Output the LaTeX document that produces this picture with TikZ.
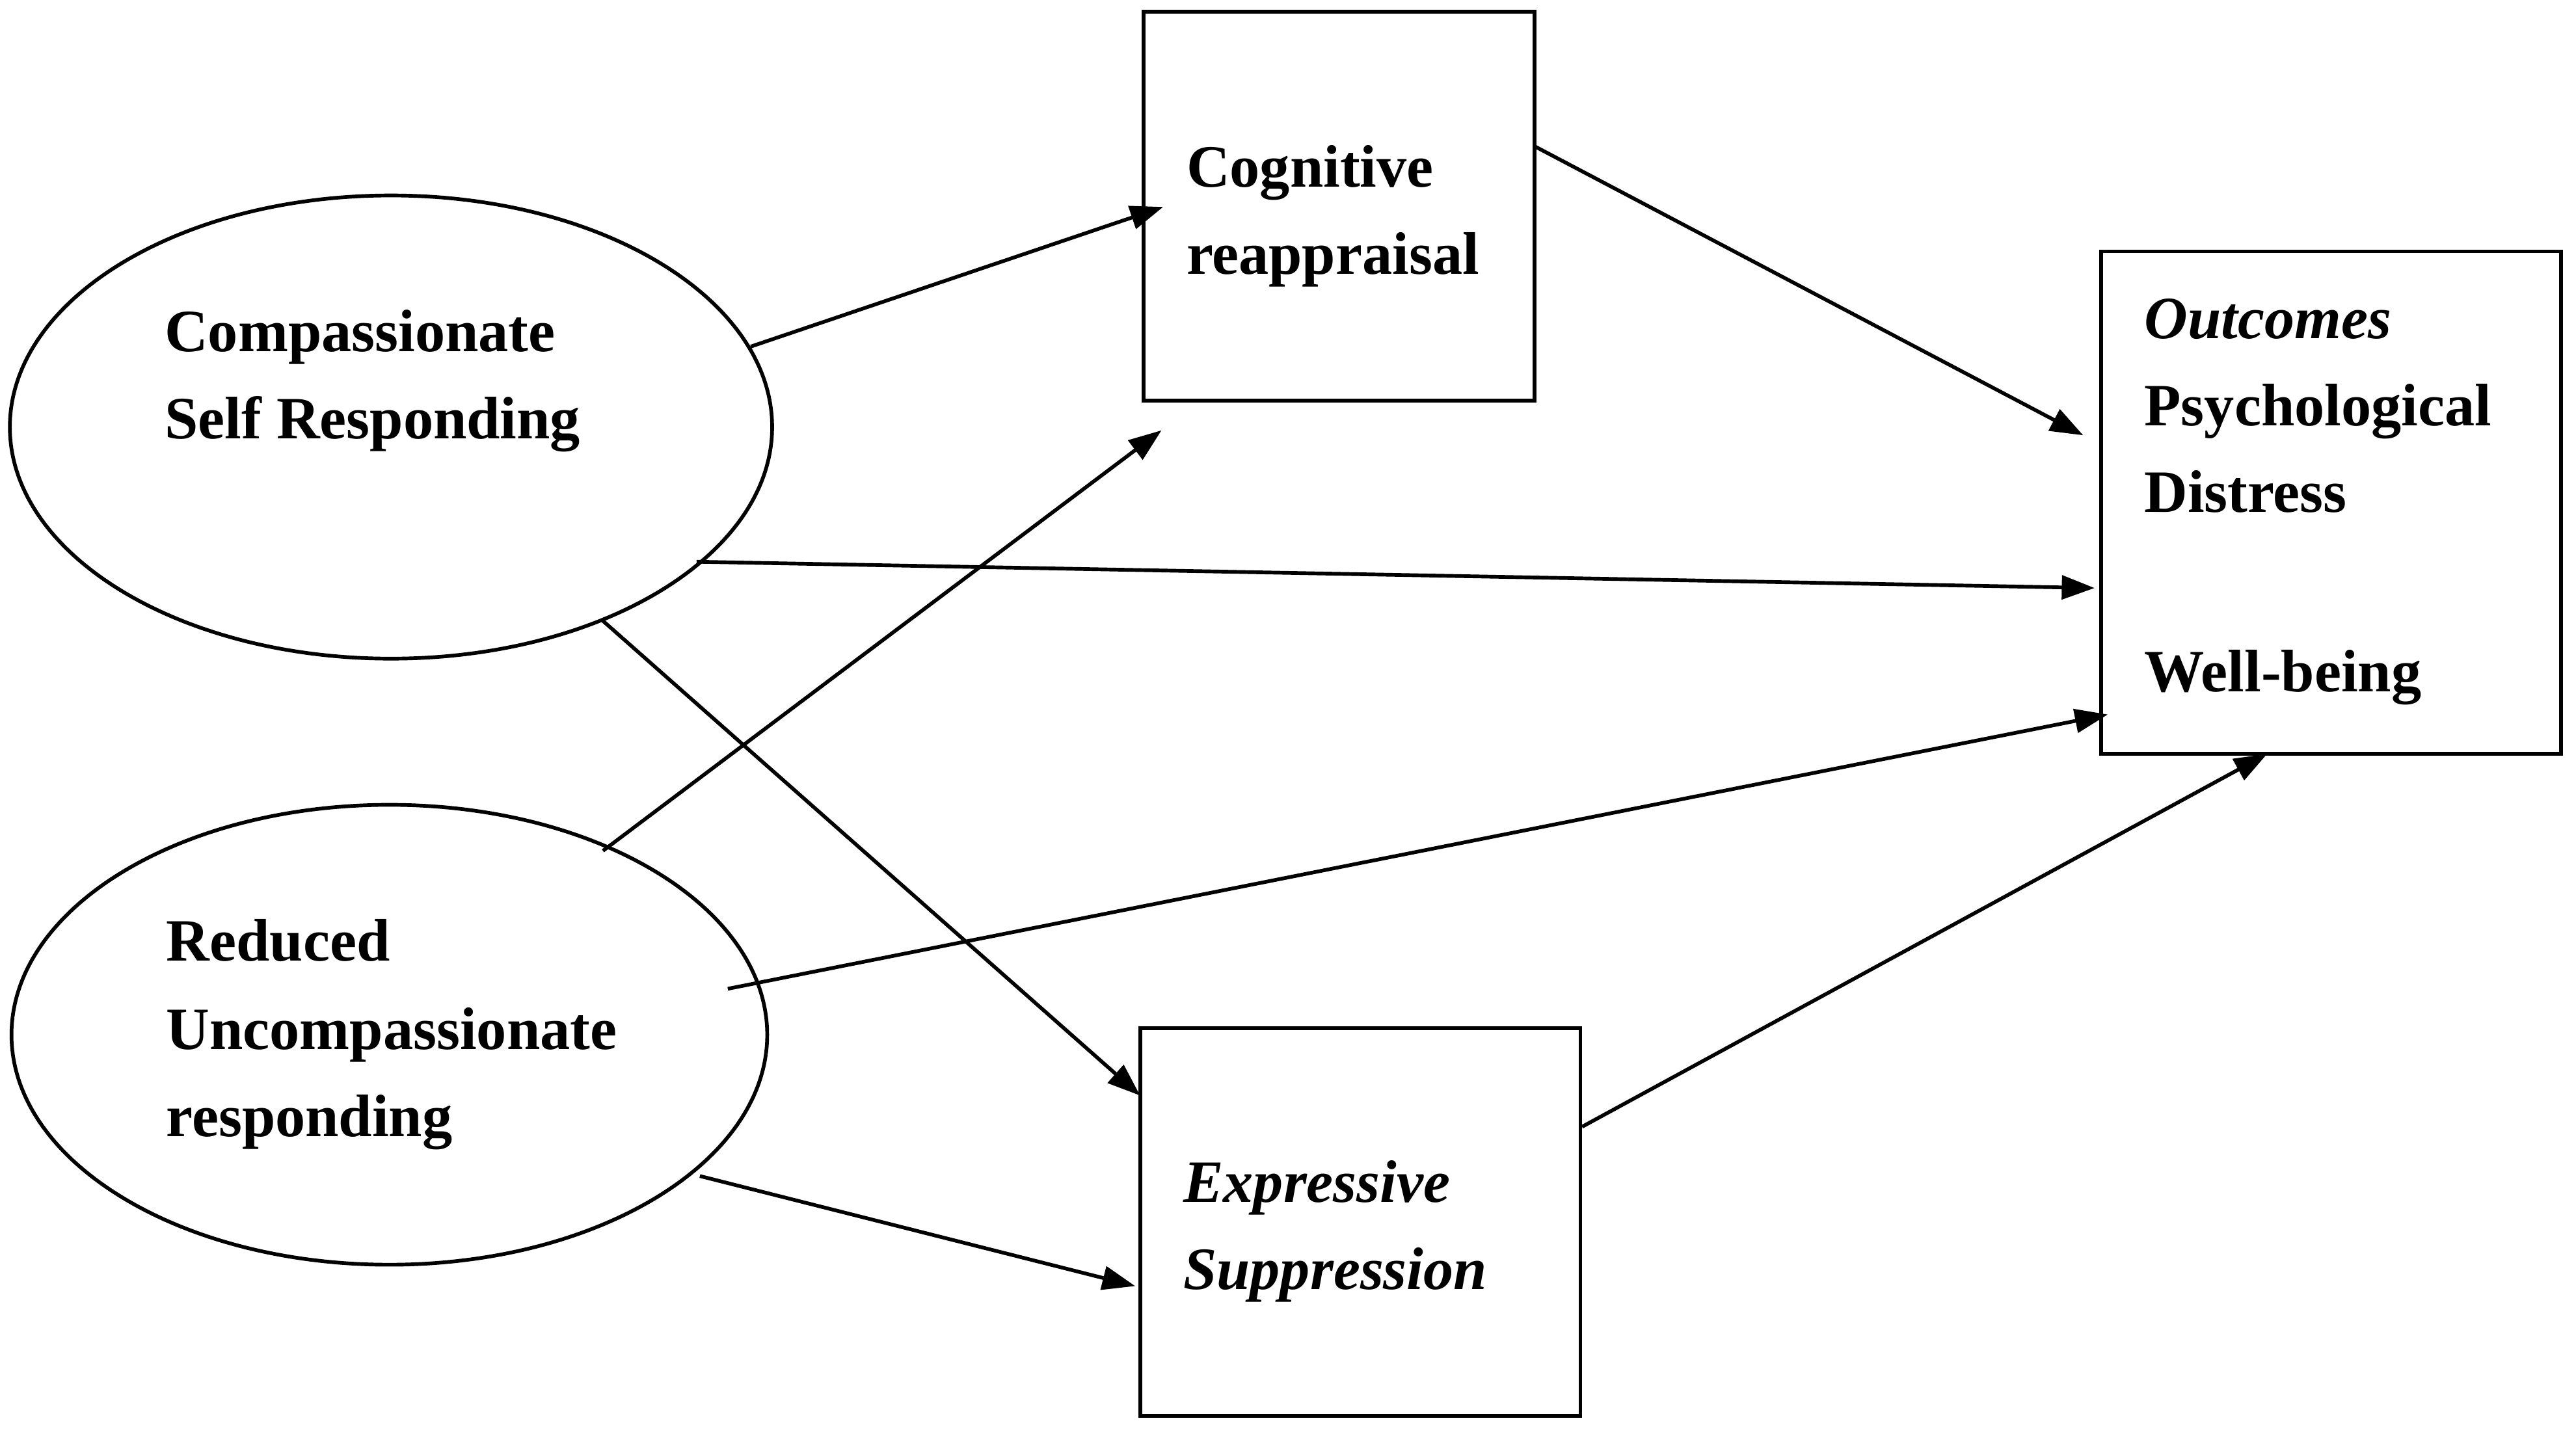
\documentclass[tikz,border=0pt]{standalone}
\usepackage{fontspec}
\setmainfont{Liberation Serif}
\usetikzlibrary{arrows.meta,shapes.geometric}
\begin{document}
\begin{tikzpicture}[x=0.025cm,y=-0.025cm,
  shp/.style={draw,line width=1.6pt},
  arr/.style={line width=1.6pt,-{Triangle[length=0.5cm,width=0.36cm]}},
  lbl/.style={anchor=base west,inner sep=0pt,font=\fontsize{26}{31}\selectfont\bfseries}]
\useasboundingbox (0,0) rectangle (1568,874);
\node[shp,ellipse,minimum width=464*0.025cm,minimum height=282*0.025cm] (e1) at (238,260) {};
\node[shp,ellipse,minimum width=460*0.025cm,minimum height=280*0.025cm] (e2) at (237,630) {};
\node[shp,rectangle,minimum width=238*0.025cm,minimum height=237*0.025cm] (cr) at (815,125.5) {};
\node[shp,rectangle,minimum width=280*0.025cm,minimum height=306*0.025cm] (oc) at (1419,306) {};
\node[shp,rectangle,minimum width=268*0.025cm,minimum height=236*0.025cm] (es) at (828,744) {};
\node[lbl] (t1) at (100,214) {Compassionate};
\node[lbl] (t2) at (100,267) {Self Responding};
\node[lbl] (t3) at (101,585) {Reduced};
\node[lbl] (t4) at (101,639) {Uncompassionate};
\node[lbl] (t5) at (101,692) {responding};
\node[lbl] (t6) at (722,114) {Cognitive};
\node[lbl] (t7) at (722,167) {reappraisal};
\node[lbl] (t8) at (720,732) {\itshape Expressive};
\node[lbl] (t9) at (720,785) {\itshape Suppression};
\node[lbl] (t10) at (1305,206) {\itshape Outcomes};
\node[lbl] (t11) at (1305,259) {Psychological};
\node[lbl] (t12) at (1305,312) {Distress};
\node[lbl] (t13) at (1305,421) {Well-being};
\coordinate (a1) at (457,211); \coordinate (b1) at (708,126);
\coordinate (a2) at (934,89); \coordinate (b2) at (1268,265);
\coordinate (a3) at (424,342); \coordinate (b3) at (1275,358);
\coordinate (a4) at (367,378); \coordinate (b4) at (694,667);
\coordinate (a5) at (367,518); \coordinate (b5) at (707,262);
\coordinate (a6) at (443,602); \coordinate (b6) at (1283,435);
\coordinate (a7) at (426,716); \coordinate (b7) at (691,783);
\coordinate (a8) at (963,686); \coordinate (b8) at (1380,459);
\foreach \i in {1,...,8} \draw[arr] (a\i) -- (b\i);
\end{tikzpicture}
\end{document}
